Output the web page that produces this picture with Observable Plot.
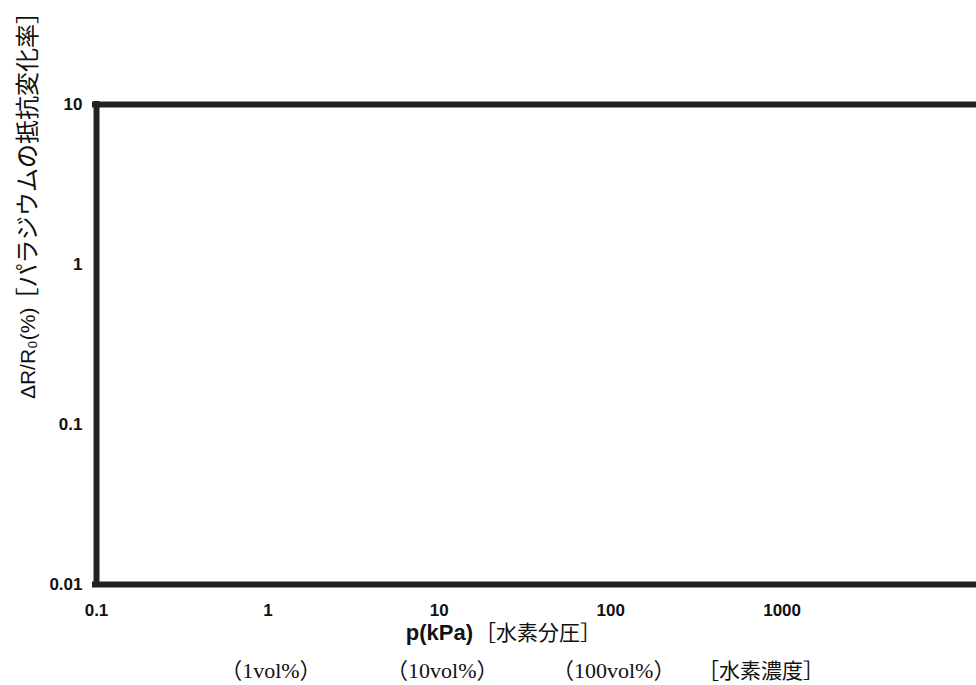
<!DOCTYPE html>
<html>
<head>
<meta charset="utf-8">
<script src="https://cdn.jsdelivr.net/npm/d3@7"></script>
<script src="https://cdn.jsdelivr.net/npm/@observablehq/plot@0.6"></script>
<style>
  html, body { margin: 0; padding: 0; background: #fff; overflow: hidden; }
  #chart svg { display: block; }
</style>
</head>
<body>
<div id="chart"></div>
<script>
// Axis ticks
const xTicks = [0.1, 1, 10, 100, 1000];
const yTicks = [0.01, 0.1, 1, 10];
const xDomain = [0.1, 10000];
const yDomain = [0.01, 10];

// Text
const yLabelLatin = "ΔR/R₀(%)";
const yLabelJa = "［パラジウムの抵抗変化率］";
const xLabelLatin = "p(kPa)";
const xLabelJa = "［水素分圧］";
const volPositions = [1, 10, 100];
const volLabels = ["（1vol%）", "（10vol%）", "（100vol%）"];
const concPosition = [1000];
const concLabel = ["［水素濃度］"];

const sans = "'Liberation Sans', Arial, Helvetica, sans-serif";
const ja = "'Noto Sans CJK JP', sans-serif";
const serif = "'Liberation Serif', 'DejaVu Serif', 'Noto Sans CJK JP', serif";
const frameColor = "#222";

const chart = Plot.plot({
  width: 976,
  height: 685,
  marginTop: 104,
  marginBottom: 101,
  marginLeft: 95,
  marginRight: 0,
  style: { background: "#fff", color: "#111" },
  x: { type: "log", domain: xDomain, range: [96, 953] },
  y: { type: "log", domain: yDomain },
  marks: [
    Plot.ruleY(yDomain, { stroke: frameColor, strokeWidth: 6, strokeLinecap: "square" }),
    Plot.ruleX([xDomain[0]], { y1: yDomain[0], y2: yDomain[1], stroke: frameColor, strokeWidth: 6, strokeLinecap: "square" }),
    Plot.axisX(xTicks, {
      tickSize: 0, tickPadding: 19, tickFormat: d => String(d),
      fontSize: 17, fontWeight: "bold", fontFamily: sans, label: null
    }),
    Plot.axisY(yTicks, {
      tickSize: 0, tickPadding: 13, tickFormat: d => String(d),
      fontSize: 17, fontWeight: "bold", fontFamily: sans, label: null
    }),
    // y-axis title (rotated)
    Plot.text([yLabelLatin], {
      frameAnchor: "left", text: d => d, rotate: -90, textAnchor: "end",
      dx: -67, dy: -37, fontSize: 21, fontFamily: sans, fill: "#111"
    }),
    Plot.text([yLabelJa], {
      frameAnchor: "left", text: d => d, rotate: -90, textAnchor: "start",
      dx: -67, dy: -33, fontSize: 24, fontFamily: ja, fill: "#111"
    }),
    // x-axis title
    Plot.text([xLabelLatin], {
      frameAnchor: "bottom", text: d => d, textAnchor: "end",
      dx: -63, dy: 55, fontSize: 22, fontWeight: "bold", fontFamily: sans, fill: "#111"
    }),
    Plot.text([xLabelJa], {
      frameAnchor: "bottom", text: d => d, textAnchor: "start",
      dx: -61, dy: 55, fontSize: 21, fontFamily: ja, fill: "#111"
    }),
    // hydrogen concentration row
    Plot.text(volPositions, {
      x: d => d, frameAnchor: "bottom", text: (d, i) => volLabels[i],
      dy: 93, dx: 3, fontSize: 22, fontFamily: serif, fill: "#111"
    }),
    Plot.text(concPosition, {
      x: d => d, frameAnchor: "bottom", text: (d, i) => concLabel[i],
      dy: 93, dx: -21, fontSize: 21, fontFamily: ja, fill: "#111"
    })
  ]
});
document.getElementById("chart").appendChild(chart);
</script>
</body>
</html>
